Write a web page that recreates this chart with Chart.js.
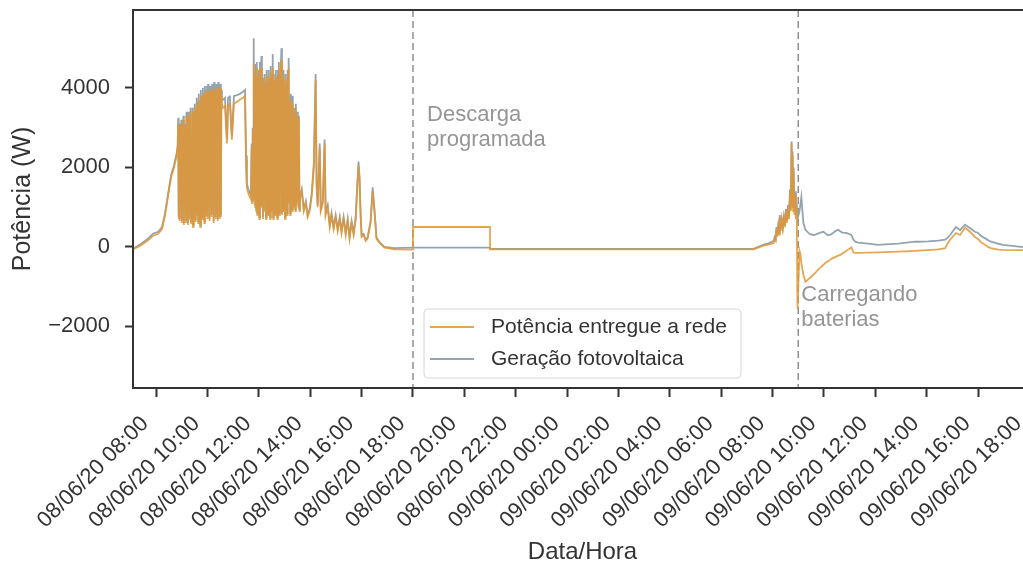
<!DOCTYPE html>
<html>
<head>
<meta charset="utf-8">
<script src="https://cdn.jsdelivr.net/npm/chart.js@4"></script>
<style>
  html, body { margin: 0; padding: 0; background: #fff; overflow: hidden; }
  canvas { display: block; }
</style>
</head>
<body>
<canvas id="grafico" width="1040" height="564"></canvas>
<script>
// horas contadas desde 08/06/20 00:00
const horas = [
  7.11, 7.38, 7.65, 7.88, 8.08, 8.23, 8.35, 8.47, 8.58, 8.70, 8.80,
  8.84, 8.86, 8.88, 8.90, 8.92, 8.94, 8.96, 8.98, 9.00, 9.02,
  9.04, 9.06, 9.08, 9.10, 9.12, 9.14, 9.16, 9.18, 9.20, 9.22,
  9.24, 9.26, 9.28, 9.30, 9.32, 9.34, 9.36, 9.38, 9.40, 9.42,
  9.44, 9.46, 9.48, 9.50, 9.52, 9.54, 9.56, 9.58, 9.60, 9.62,
  9.64, 9.66, 9.68, 9.70, 9.72, 9.74, 9.76, 9.78, 9.80, 9.82,
  9.84, 9.86, 9.88, 9.90, 9.92, 9.94, 9.96, 9.98, 10.00, 10.02,
  10.04, 10.06, 10.08, 10.10, 10.12, 10.14, 10.16, 10.18, 10.20, 10.22,
  10.24, 10.26, 10.28, 10.30, 10.32, 10.34, 10.36, 10.38, 10.40, 10.42,
  10.44, 10.46, 10.48, 10.50, 10.52, 10.54, 10.56,
  10.60, 10.68, 10.76, 10.80, 10.87, 10.95, 11.03, 11.15, 11.26, 11.38, 11.46, 11.50, 11.53, 11.61, 11.69,
  11.72, 11.74, 11.76, 11.78, 11.80, 11.82, 11.84, 11.86, 11.88, 11.90,
  11.92, 11.94, 11.96, 11.98, 12.00, 12.02, 12.04, 12.06, 12.08, 12.10,
  12.12, 12.14, 12.16, 12.18, 12.20, 12.22, 12.24, 12.26, 12.28, 12.30,
  12.32, 12.34, 12.36, 12.38, 12.40, 12.42, 12.44, 12.46, 12.48, 12.50,
  12.52, 12.54, 12.56, 12.58, 12.60, 12.62, 12.64, 12.66, 12.68, 12.70,
  12.72, 12.74, 12.76, 12.78, 12.80, 12.82, 12.84, 12.86, 12.88, 12.90,
  12.92, 12.94, 12.96, 12.98, 13.00, 13.02, 13.04, 13.06, 13.08, 13.10,
  13.12, 13.14, 13.16, 13.18, 13.20, 13.22, 13.24, 13.26, 13.28, 13.30,
  13.32, 13.34, 13.36, 13.38, 13.40, 13.42, 13.44, 13.46, 13.48, 13.50,
  13.52, 13.54, 13.56, 13.58, 13.60,
  13.67, 13.75, 13.83, 13.90, 13.98, 14.06, 14.14, 14.21, 14.25, 14.29, 14.37, 14.41, 14.49, 14.56, 14.60,
  14.68, 14.76, 14.83, 14.91, 14.99, 15.07, 15.15, 15.22, 15.30, 15.38, 15.46, 15.53, 15.61, 15.69, 15.77,
  15.84, 15.88, 15.92, 15.96, 16.00, 16.08, 16.16, 16.23, 16.35, 16.43, 16.50, 16.58, 16.70, 16.89, 17.28,
  18.00, 18.00, 21.00, 21.00,
  31.26, 31.65, 31.84,
  32.04, 32.08, 32.12, 32.15, 32.18, 32.22, 32.26, 32.28, 32.32, 32.36,
  32.40, 32.44, 32.48, 32.52, 32.56, 32.60, 32.64, 32.68, 32.71, 32.74,
  32.76, 32.78, 32.80, 32.82, 32.85, 32.88, 32.91, 32.94, 32.97,
  33.05, 33.09, 33.12, 33.20, 33.28, 33.43, 33.59, 33.67, 33.79, 33.86,
  33.98, 34.06, 34.14, 34.25, 34.29, 34.45, 34.56, 34.64, 34.72, 34.83, 34.87, 35.07, 35.15, 35.22, 35.34,
  35.73, 36.11, 36.89, 37.55, 37.67, 38.06, 38.45, 38.72, 38.83, 38.91, 39.14, 39.30, 39.49, 39.69, 39.88,
  40.00, 40.11, 40.39, 40.50, 40.77, 40.97, 41.67, 42.10
];

// Potência entregue a rede (W)
const entregue = [
  -60, 30, 150, 280, 330, 450, 800, 1300, 1750, 2000, 2300,
  2500, 3100, 700, 3000, 650, 2900, 1200, 3100, 600, 2800,
  900, 3200, 550, 3000, 1500, 2700, 600, 3300, 800, 3100,
  550, 3300, 1100, 3200, 700, 3400, 600, 2600, 900, 3400,
  500, 3300, 1300, 3500, 650, 3400, 800, 3600, 2100, 3500,
  600, 3700, 900, 3500, 500, 3800, 1000, 3600, 700, 3850,
  1400, 3700, 600, 3900, 800, 3800, 2400, 3900, 700, 3950,
  1000, 3800, 650, 3900, 1200, 3700, 750, 3950, 900, 3800,
  600, 4000, 1600, 3850, 700, 3950, 800, 3700, 650, 4000,
  1000, 3900, 700, 4000, 750, 3800, 3600,
  3500, 3550, 2600, 3550, 3600, 2700, 3600, 3650, 3700, 3750, 3800, 2200, 1500, 1300, 1200,
  2500, 1100, 2900, 1300, 4600, 1200, 4200, 1000, 4400, 900,
  4500, 800, 4100, 1400, 4300, 700, 4500, 1000, 4200, 4500,
  1000, 4100, 700, 3800, 1800, 4200, 900, 4000, 700, 4300,
  1600, 4000, 800, 4300, 1200, 4100, 700, 4400, 2000, 4200,
  900, 4500, 700, 4200, 1500, 4000, 800, 4300, 1100, 4100,
  700, 4300, 1000, 4500, 800, 4200, 1300, 4500, 4700, 800,
  4100, 900, 4300, 1200, 3900, 700, 4200, 1000, 4000, 800,
  4300, 1500, 4500, 1100, 3600, 800, 3700, 1300, 3600, 900,
  3600, 1000, 3300, 1400, 3400, 900, 3500, 1200, 3300, 1100,
  3300, 1000, 3200, 900, 1200,
  1400, 900, 1100, 750, 900, 1300, 2000, 4200, 1500, 1000, 2500, 900, 1100, 2600, 800,
  1000, 500, 800, 450, 750, 400, 700, 350, 700, 300, 650, 200, 600, 300, 700,
  1600, 2050, 1700, 800, 250, 300, 150, 200, 600, 1400, 900, 200, 100, -20, -60,
  -70, 500, 500, -60,
  -60, 30, 60,
  100, 200, 150, 450, 250, 500, 300, 750, 400, 650,
  450, 700, 500, 900, 600, 1000, 700, 1400, 900, 2600,
  1000, 2300, 900, 1900, 800, 1300, 700, 1000, -1550,
  -100, -200, -400, -700, -880, -790, -700, -650, -560, -520,
  -450, -400, -370, -320, -300, -250, -220, -200, -160, -120, -100, -10, -140, -150, -150,
  -145, -140, -120, -100, -95, -80, -60, -30, 100, 180, 350, 300, 480, 380, 250,
  200, 120, 0, -30, -70, -75, -80, -80
];

// Geração fotovoltaica (W)
const geracao = [
  -40, 60, 190, 330, 380, 500, 850, 1350, 1800, 2060, 2360,
  2550, 3250, 750, 3100, 700, 3000, 1250, 3200, 650, 2900,
  950, 3300, 600, 3100, 1550, 2800, 650, 3400, 850, 3200,
  600, 3400, 1150, 3300, 750, 3500, 650, 2700, 950, 3500,
  550, 3400, 1350, 3600, 700, 3500, 850, 3750, 2150, 3650,
  650, 3850, 950, 3650, 550, 3950, 1050, 3750, 750, 4000,
  1450, 3850, 650, 4050, 850, 3950, 2450, 4050, 750, 4100,
  1050, 3950, 700, 4050, 1250, 3850, 800, 4100, 950, 3950,
  650, 4150, 1650, 4000, 750, 4100, 850, 3850, 700, 4150,
  1050, 4050, 750, 4100, 800, 3950, 3750,
  3700, 3750, 2700, 3750, 3780, 2800, 3800, 3820, 3850, 3900, 3950, 2300, 1600, 1400, 1300,
  2600, 1150, 3000, 1350, 5250, 1250, 4400, 1050, 4600, 950,
  4650, 850, 4250, 1450, 4450, 750, 4650, 1050, 4400, 4800,
  1050, 4250, 750, 3950, 1850, 4350, 950, 4150, 750, 4450,
  1650, 4150, 850, 4450, 1250, 4250, 750, 4550, 2050, 4350,
  950, 4850, 750, 4350, 1550, 4150, 850, 4450, 1150, 4250,
  750, 4450, 1050, 4650, 850, 4350, 1350, 4650, 5000, 850,
  4250, 950, 4450, 1250, 4050, 750, 4350, 1050, 4150, 850,
  4450, 1550, 4750, 1150, 3700, 850, 3850, 1350, 3800, 950,
  3800, 1050, 3400, 1450, 3500, 950, 3600, 1250, 3400, 1150,
  3400, 1050, 3300, 950, 1250,
  1450, 950, 1150, 800, 950, 1350, 2100, 4350, 1550, 1050, 2600, 950, 1150, 2700, 850,
  1050, 550, 850, 500, 800, 450, 750, 400, 750, 350, 700, 250, 650, 350, 750,
  1650, 2150, 1750, 850, 300, 330, 180, 230, 640, 1500, 950, 230, 120, 0, -30,
  -20, -20, -20, -50,
  -50, 60, 90,
  150, 250, 200, 500, 300, 550, 350, 800, 450, 700,
  500, 750, 550, 950, 650, 1050, 750, 1450, 950, 2650,
  1100, 2400, 1000, 2000, 900, 1400, 800, 1100, 700,
  900, 1100, 1250, 600, 430, 330, 300, 310, 340, 360,
  380, 340, 300, 310, 320, 400, 430, 390, 360, 355, 350, 300, 180, 130, 110,
  80, 50, 80, 130, 130, 140, 160, 180, 240, 300, 500, 420, 560, 470, 380,
  350, 280, 170, 130, 80, 50, 0, 0
];

const horasTicks = [8, 10, 12, 14, 16, 18, 20, 22, 24, 26, 28, 30, 32, 34, 36, 38, 40, 42];
const rotulosTicks = [
  '08/06/20 08:00', '08/06/20 10:00', '08/06/20 12:00', '08/06/20 14:00', '08/06/20 16:00',
  '08/06/20 18:00', '08/06/20 20:00', '08/06/20 22:00', '09/06/20 00:00', '09/06/20 02:00',
  '09/06/20 04:00', '09/06/20 06:00', '09/06/20 08:00', '09/06/20 10:00', '09/06/20 12:00',
  '09/06/20 14:00', '09/06/20 16:00', '09/06/20 18:00'
];
const ticksPotencia = [-2000, 0, 2000, 4000];

// linhas tracejadas e anotações
const marcos = [18.0, 33.0];
const anotacoes = [
  { x: 18.55, y: 3320, linhas: ['Descarga', 'programada'] },
  { x: 33.12, y: -1210, linhas: ['Carregando', 'baterias'] }
];

const fonte = '"Liberation Sans", Arial, sans-serif';
const corTexto = '#333';

const extras = {
  id: 'extras',
  beforeDatasetsDraw(chart) {
    const { ctx, chartArea, scales } = chart;
    ctx.save();
    ctx.strokeStyle = '#8f8f8f';
    ctx.lineWidth = 1.5;
    ctx.setLineDash([7, 4]);
    marcos.forEach(m => {
      const px = scales.x.getPixelForValue(m);
      ctx.beginPath();
      ctx.moveTo(px, chartArea.top);
      ctx.lineTo(px, chartArea.bottom);
      ctx.stroke();
    });
    ctx.restore();
  },
  afterDatasetsDraw(chart) {
    const { ctx, chartArea, scales } = chart;
    ctx.save();
    // moldura
    ctx.strokeStyle = '#333';
    ctx.lineWidth = 2;
    ctx.strokeRect(chartArea.left, chartArea.top, chartArea.right - chartArea.left, chartArea.bottom - chartArea.top);

    // textos
    ctx.fillStyle = '#959595';
    ctx.font = '22px ' + fonte;
    ctx.textAlign = 'left';
    ctx.textBaseline = 'middle';
    anotacoes.forEach(a => {
      const px = scales.x.getPixelForValue(a.x);
      const py = scales.y.getPixelForValue(a.y);
      a.linhas.forEach((t, i) => ctx.fillText(t, px, py + i * 25));
    });

    // legenda
    const w = 317, h = 69;
    const lx = (chartArea.left + chartArea.right) / 2 - w / 2;
    const ly = chartArea.bottom - 10 - h;
    ctx.beginPath();
    ctx.roundRect(lx, ly, w, h, 4);
    ctx.fillStyle = 'rgba(255,255,255,0.85)';
    ctx.fill();
    ctx.strokeStyle = '#d6d6d6';
    ctx.lineWidth = 1;
    ctx.stroke();
    ctx.font = '21px ' + fonte;
    chart.data.datasets.forEach((ds, i) => {
      const yy = ly + 18 + i * 32;
      ctx.strokeStyle = ds.borderColor;
      ctx.lineWidth = 2;
      ctx.beginPath();
      ctx.moveTo(lx + 6, yy);
      ctx.lineTo(lx + 50, yy);
      ctx.stroke();
      ctx.fillStyle = corTexto;
      ctx.fillText(ds.label, lx + 67, yy);
    });
    ctx.restore();
  }
};

new Chart(document.getElementById('grafico'), {
  type: 'line',
  data: {
    datasets: [
      {
        label: 'Potência entregue a rede',
        data: horas.map((h, i) => ({ x: h, y: entregue[i] })),
        borderColor: 'rgba(226,150,50,0.85)',
        borderWidth: 1.8,
        pointRadius: 0
      },
      {
        label: 'Geração fotovoltaica',
        data: horas.map((h, i) => ({ x: h, y: geracao[i] })),
        borderColor: '#93a4b0',
        borderWidth: 1.8,
        pointRadius: 0
      }
    ]
  },
  options: {
    responsive: false,
    animation: false,
    layout: { padding: { top: 10, right: 8, left: 0, bottom: 0 } },
    plugins: {
      legend: { display: false },
      tooltip: { enabled: false }
    },
    scales: {
      x: {
        type: 'linear',
        min: 7.1,
        max: 42.1,
        afterBuildTicks: s => { s.ticks = horasTicks.map(v => ({ value: v })); },
        afterFit: s => { s.height = 176; s.paddingLeft = 0; s.paddingRight = 0; },
        ticks: {
          autoSkip: false,
          minRotation: 45,
          maxRotation: 45,
          padding: 14,
          labelOffset: -11,
          color: corTexto,
          font: { size: 22, family: fonte },
          callback: v => rotulosTicks[horasTicks.indexOf(v)]
        },
        grid: { drawOnChartArea: false, drawTicks: true, tickLength: 9, tickColor: '#333', tickWidth: 2 },
        border: { display: false },
        title: {
          display: true,
          text: 'Data/Hora',
          color: corTexto,
          font: { size: 24, family: fonte },
          padding: { top: 0, bottom: -3 }
        }
      },
      y: {
        min: -3550,
        max: 5960,
        afterBuildTicks: s => { s.ticks = ticksPotencia.map(v => ({ value: v })); },
        afterFit: s => { s.width = 133; s.paddingTop = 0; s.paddingBottom = 0; },
        ticks: {
          padding: 15,
          color: corTexto,
          font: { size: 22, family: fonte },
          callback: v => (v < 0 ? '\u2212' + Math.abs(v) : String(v))
        },
        grid: { drawOnChartArea: false, drawTicks: true, tickLength: 8, tickColor: '#333', tickWidth: 2 },
        border: { display: false },
        title: {
          display: true,
          text: 'Potência (W)',
          color: corTexto,
          font: { size: 25, family: fonte },
          padding: { top: 8, bottom: 0 }
        }
      }
    }
  },
  plugins: [extras]
});
</script>
</body>
</html>
